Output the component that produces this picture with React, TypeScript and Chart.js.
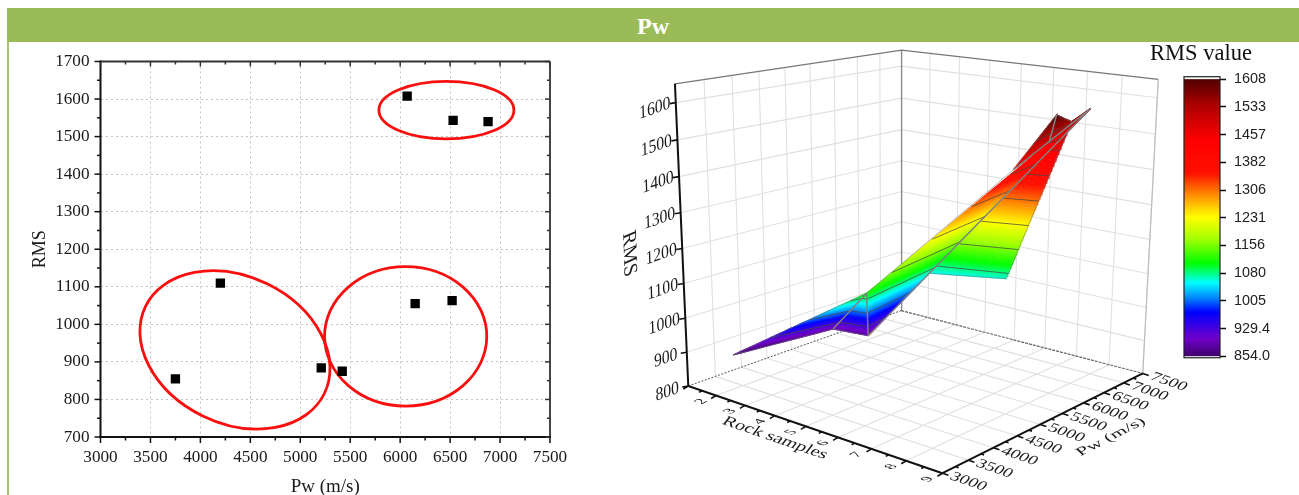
import React, { useEffect, useRef } from "react";
import { Chart, registerables } from "chart.js";
Chart.register(...registerables);

const SERIF = "'Liberation Serif'";
const SANS = "'Liberation Sans'";

// ---- left scatter data
const scatterPw = [3750, 4200, 5210, 5420, 6150, 6520, 6070, 6530, 6880];
const scatterRms = [855, 1110, 884, 875, 1055, 1063, 1608, 1543, 1540];
const ringPw = [6463, 6055, 4346];
const ringRms = [1570.5, 968, 932];
const ringA = [67.5, 81.1, 99.5];
const ringB = [28.7, 69.7, 73.5];
const ringTilt = [0, 0, 26];

// ---- 3D surface data
const surfaceSample = [1.15, 2.18, 3.07, 5.04, 4.05, 5.96, 7.43, 8.78, 7.65, 7.03, 7.45];
const surfacePw = [3768, 5205, 5409, 4151, 6133, 6517, 5486, 5321, 6613, 7597, 6258];
const surfaceRms = [854, 884, 875, 1110, 1055, 1063, 1440, 1608, 1540, 1543, 1490];
const surfaceTriangles = [[4, 5, 8], [4, 8, 9], [6, 7, 10], [7, 8, 10], [10, 8, 9], [2, 3, 9], [0, 1, 3], [1, 2, 3]];
const meshEdges = [[1, 3], [2, 3], [2, 9], [6, 9], [7, 10]];
const outlineEdges = [[0, 1], [0, 3], [1, 2], [3, 6], [6, 7], [7, 8], [8, 5], [5, 4]];
const sampleTicks = [1, 2, 3, 4, 5, 6, 7, 8, 9];
const sampleLabels = ["", "2", "3", "4", "5", "6", "7", "8", "9"];
const pwTicks = [3000, 3500, 4000, 4500, 5000, 5500, 6000, 6500, 7000, 7500];
const rmsTicks = [800, 900, 1000, 1100, 1200, 1300, 1400, 1500, 1600];

// ---- colour bar
const barTicks = [854, 929.4, 1005, 1080, 1156, 1231, 1306, 1382, 1457, 1533, 1608];
const barLabels = ["854.0", "929.4", "1005", "1080", "1156", "1231", "1306", "1382", "1457", "1533", "1608"];
const colorLevels = [854, 900, 972, 1015, 1053, 1106, 1170, 1231, 1290, 1352, 1440, 1533, 1608];
const colorStops = [[64, 0, 110], [112, 0, 200], [0, 0, 255], [0, 144, 255], [0, 255, 255], [0, 255, 0], [160, 255, 0], [255, 255, 0], [255, 144, 0], [255, 16, 0], [255, 0, 0], [176, 0, 0], [80, 0, 0]];

function colorAt(z: number) {
  const n = colorLevels.length;
  if (z <= colorLevels[0]) return `rgb(${colorStops[0].join(",")})`;
  for (let i = 1; i < n; i++) {
    if (z <= colorLevels[i]) {
      const t = (z - colorLevels[i - 1]) / (colorLevels[i] - colorLevels[i - 1]);
      const c = colorStops[i].map((v, k) => Math.round(colorStops[i - 1][k] + (v - colorStops[i - 1][k]) * t));
      return `rgb(${c.join(",")})`;
    }
  }
  return `rgb(${colorStops[n - 1].join(",")})`;
}

// ---- perspective view of the box, fitted to where its corners sit on the page
const boxCorners = [
  [0, 0, 0, 688, 385.7], [1, 0, 0, 942.7, 473.3], [1, 1, 0, 1142.5, 373.5], [0, 1, 0, 901.5, 310.7],
  [0, 0, 1, 675, 84], [0, 1, 1, 901.5, 50], [1, 1, 1, 1158.3, 79.3],
];
function fitView() {
  const rows: number[][] = []; const rhs: number[] = [];
  for (const [u, v, w, X0, Y0] of boxCorners) {
    const X = X0 / 1000, Y = Y0 / 1000;
    rows.push([u, v, w, 1, 0, 0, 0, 0, -X * u, -X * v, -X * w]); rhs.push(X);
    rows.push([0, 0, 0, 0, u, v, w, 1, -Y * u, -Y * v, -Y * w]); rhs.push(Y);
  }
  const n = 11; const A = Array.from({ length: n }, () => new Array(n + 1).fill(0));
  rows.forEach((r, k) => { for (let i = 0; i < n; i++) { for (let j = 0; j < n; j++) A[i][j] += r[i] * r[j]; A[i][n] += r[i] * rhs[k]; } });
  for (let i = 0; i < n; i++) {
    let m = i; for (let k = i + 1; k < n; k++) if (Math.abs(A[k][i]) > Math.abs(A[m][i])) m = k;
    [A[i], A[m]] = [A[m], A[i]];
    for (let k = 0; k < n; k++) { if (k === i) continue; const f = A[k][i] / A[i][i]; for (let j = i; j <= n; j++) A[k][j] -= f * A[i][j]; }
  }
  return A.map((r, i) => r[n] / r[i]);
}
const P = fitView();
const RMS_TOP = 1650;
function project(s: number, pw: number, z: number) {
  const u = (s - 1) / 8, v = (pw - 3000) / 4500, w = (z - 800) / (RMS_TOP - 800);
  const d = P[8] * u + P[9] * v + P[10] * w + 1;
  return { x: 1000 * (P[0] * u + P[1] * v + P[2] * w + P[3]) / d, y: 1000 * (P[4] * u + P[5] * v + P[6] * w + P[7]) / d };
}
type V3 = [number, number, number];
const vert = (i: number): V3 => [surfaceSample[i], surfacePw[i], surfaceRms[i]];
const mix = (a: V3, b: V3, t: number): V3 => [a[0] + (b[0] - a[0]) * t, a[1] + (b[1] - a[1]) * t, a[2] + (b[2] - a[2]) * t];
function clipBand(poly: V3[], lo: number, hi: number) {
  const cut = (pts: V3[], lim: number, keepAbove: boolean) => {
    const out: V3[] = [];
    pts.forEach((a, i) => {
      const b = pts[(i + 1) % pts.length];
      const ina = keepAbove ? a[2] >= lim : a[2] <= lim;
      const inb = keepAbove ? b[2] >= lim : b[2] <= lim;
      if (ina) out.push(a);
      if (ina !== inb) out.push(mix(a, b, (lim - a[2]) / (b[2] - a[2])));
    });
    return out;
  };
  return cut(cut(poly, lo, true), hi, false);
}
const P3 = (a: V3) => project(a[0], a[1], a[2]);
const GAP = { x: NaN, y: NaN };
function segs(list: { x: number; y: number }[][]) {
  const out: { x: number; y: number }[] = [];
  list.forEach((l) => { out.push(...l, GAP); });
  return out;
}
function lineDs(data: { x: number; y: number }[], color: string, width: number, dash: number[] = []) {
  return { data, borderColor: color, borderWidth: width, borderDash: dash, showLine: true, pointRadius: 0, fill: false, spanGaps: false, borderCapStyle: "butt" };
}

function build3dDatasets() {
  const back: any[] = [];
  const S0 = 1, S1 = 9, V0 = 3000, V1 = 7500, Z0 = 800, Z1 = RMS_TOP;
  const grid: { x: number; y: number }[][] = [];
  sampleTicks.slice(1, -1).forEach((s) => {
    grid.push([project(s, V0, Z0), project(s, V1, Z0)]);
  });
  sampleTicks.slice(1).forEach((s) => grid.push([project(s, V1, Z0), project(s, V1, Z1)]));
  pwTicks.slice(1, -1).forEach((v) => {
    grid.push([project(S0, v, Z0), project(S1, v, Z0)]);
    grid.push([project(S0, v, Z0), project(S0, v, Z1)]);
  });
  rmsTicks.slice(1).forEach((z) => {
    grid.push([project(S0, V0, z), project(S0, V1, z), project(S1, V1, z)]);
  });
  back.push(lineDs(segs(grid), "#e0e0e0", 1.1));
  back.push(lineDs([project(S0, V1, Z0), project(S0, V1, Z1)], "#8a8a8a", 1.4));
  back.push(lineDs([project(S0, V0, Z1), project(S0, V1, Z1), project(S1, V1, Z1)], "#777777", 1.2));
  back.push(lineDs([project(S1, V1, Z0), project(S1, V1, Z1)], "#bdbdbd", 1.2));
  back.push(lineDs([project(S0, V0, Z0), project(S0, V1, Z0)], "#555555", 1, [2, 1.5]));
  back.push(lineDs([project(S0, V1, Z0), project(S1, V1, Z0)], "#666666", 1.2, [3, 1]));
  back.push(lineDs([project(S0, V0, Z0), project(S1, V0, Z0)], "#111111", 2));
  back.push(lineDs([project(S1, V0, Z0), project(S1, V1, Z0)], "#111111", 2));
  back.push(lineDs([project(S0, V0, Z0), project(S0, V0, Z1)], "#111111", 2));

  const ticks: { x: number; y: number }[][] = [];
  const off = (q: { x: number; y: number }, dx: number, dy: number) => ({ x: q.x + dx, y: q.y + dy });
  rmsTicks.forEach((z) => { const q = project(S0, V0, z); ticks.push([q, off(q, -6, 1)]); });
  sampleTicks.forEach((s, i) => {
    const q = project(s, V0, Z0); ticks.push([q, off(q, -5, 3)]);
    if (i < sampleTicks.length - 1) { const h = project(s + 0.5, V0, Z0); ticks.push([h, off(h, -3, 1.6)]); }
  });
  pwTicks.forEach((v, i) => {
    const q = project(S1, v, Z0); ticks.push([q, off(q, 6, 2)]);
    if (i < pwTicks.length - 1) { const h = project(S1, v + 250, Z0); ticks.push([h, off(h, 3, 1)]); }
  });
  back.push(lineDs(segs(ticks), "#111111", 1.6));

  const STEP = 5;
  surfaceTriangles.forEach((tri) => {
    const poly = tri.map(vert);
    const zs = poly.map((a) => a[2]);
    const lo = Math.min(...zs), hi = Math.max(...zs);
    for (let z = Math.floor(lo / STEP) * STEP; z < hi; z += STEP) {
      const band = clipBand(poly, z, z + STEP);
      if (band.length < 3) continue;
      const c = colorAt(z + STEP / 2);
      back.push({ data: band.map(P3), showLine: true, fill: "shape", backgroundColor: c, borderColor: c, borderWidth: 1.1, pointRadius: 0 });
    }
    const contour: { x: number; y: number }[][] = [];
    barTicks.forEach((lv) => {
      const pts: V3[] = [];
      poly.forEach((a, i) => {
        const b = poly[(i + 1) % 3];
        if ((a[2] - lv) * (b[2] - lv) < 0) pts.push(mix(a, b, (lv - a[2]) / (b[2] - a[2])));
      });
      if (pts.length === 2) contour.push(pts.map(P3));
    });
    back.push(lineDs(segs(contour), "rgba(70,70,70,0.75)", 1));
  });
  back.push(lineDs(segs(outlineEdges.map((e) => [P3(vert(e[0])), P3(vert(e[1]))])), "rgba(120,120,120,0.7)", 0.8));
  back.push(lineDs(segs(meshEdges.map((e) => [P3(vert(e[0])), P3(vert(e[1]))])), "#808080", 1.5));
  return back.reverse();
}

const viewLabels = {
  id: "viewLabels",
  afterDraw(chart: any) {
    const { ctx, scales: { x, y } } = chart;
    const put = (txt: string, px: number, py: number, xb: number[], yb: number[], size: number, font = SERIF) => {
      ctx.save();
      ctx.setTransform(xb[0], xb[1], yb[0], yb[1], x.getPixelForValue(px), y.getPixelForValue(py));
      ctx.font = `${size}px ${font}`;
      ctx.fillStyle = "#1a1a1a";
      ctx.textAlign = "center";
      ctx.textBaseline = "middle";
      ctx.fillText(txt, 0, 0);
      ctx.restore();
    };
    const alongU = [0.945, 0.326], alongV = [0.89, -0.455], wall = [0.945, -0.326], up = [0.03, 1];
    const s = (a: number[], k: number) => [a[0] * k, a[1] * k];
    rmsTicks.forEach((z) => { const q = project(1, 3000, z); put(String(z), q.x - 21, q.y + 6, s(wall, 0.97), s(up, 1.1), 17); });
    sampleTicks.forEach((t, i) => { if (!sampleLabels[i]) return; const q = project(t, 3000, 800); put(sampleLabels[i], q.x - 15, q.y + 6, s(alongV, 1.05), s(alongU, 0.95), 14.5); });
    pwTicks.forEach((v) => { const q = project(9, v, 800); put(String(v), q.x + 26, q.y + 8.5, s(alongU, 1.15), [-0.55, 0.72], 16); });
    put("Rock samples", 775, 438, s(alongU, 1.15), [-0.55, 0.72], 17);
    put("Pw (m/s)", 1111, 437, s(alongV, 1.2), [0.58, 0.55], 17);
    put("RMS", 629, 254, [0.03, 1], [-0.92, 0.4], 21);
  },
};

const frame = {
  id: "frame",
  beforeDatasetsDraw(chart: any) {
    const { ctx, scales: { x, y } } = chart;
    ringPw.forEach((v, i) => {
      ctx.beginPath();
      ctx.ellipse(x.getPixelForValue(v), y.getPixelForValue(ringRms[i]), ringA[i], ringB[i], (ringTilt[i] * Math.PI) / 180, 0, Math.PI * 2);
      ctx.strokeStyle = "#fa0f0f";
      ctx.lineWidth = 2.8;
      ctx.stroke();
    });
  },
  afterDraw(chart: any) {
    const { ctx, chartArea: a, scales: { x, y } } = chart;
    ctx.save();
    const ln = (x0: number, y0: number, x1: number, y1: number, c: string, w: number) => {
      ctx.beginPath(); ctx.moveTo(x0, y0); ctx.lineTo(x1, y1); ctx.strokeStyle = c; ctx.lineWidth = w; ctx.stroke();
    };
    ln(a.left, a.top, a.right, a.top, "#333", 1.8);
    ln(a.right, a.top, a.right, a.bottom, "#333", 1.8);
    ln(a.left, a.top - 1, a.left, a.bottom + 1, "#111", 2);
    ln(a.left - 1, a.bottom, a.right + 1, a.bottom, "#111", 2);
    const xs = x.ticks.map((t: any) => t.value), ys = y.ticks.map((t: any) => t.value);
    xs.forEach((v: number, i: number) => {
      const p = x.getPixelForValue(v);
      ln(p, a.bottom, p, a.bottom + 6, "#111", 1.5); ln(p, a.top, p, a.top + 5, "#333", 1.5);
      if (i < xs.length - 1) { const h = x.getPixelForValue(v + 250); ln(h, a.bottom, h, a.bottom + 3.5, "#111", 1.5); ln(h, a.top, h, a.top + 3, "#333", 1.5); }
    });
    ys.forEach((v: number, i: number) => {
      const p = y.getPixelForValue(v);
      ln(a.left - 6, p, a.left, p, "#111", 1.5); ln(a.right - 5, p, a.right, p, "#333", 1.5);
      if (i < ys.length - 1) { const h = y.getPixelForValue(v + 50); ln(a.left - 3.5, h, a.left, h, "#111", 1.5); ln(a.right - 3, h, a.right, h, "#333", 1.5); }
    });
    ctx.restore();
  },
};

const barFrame = {
  id: "barFrame",
  afterDraw(chart: any) {
    const { ctx, chartArea: a } = chart;
    ctx.save();
    ctx.strokeStyle = "#222";
    ctx.lineWidth = 1.2;
    ctx.strokeRect(a.left, a.top - 2.6, a.right - a.left, a.bottom - a.top + 4);
    ctx.fillStyle = "#111";
    ctx.font = `22.5px ${SERIF}`;
    ctx.textAlign = "center";
    ctx.textBaseline = "middle";
    ctx.fillText("RMS value", 1201 - 1140, 54 - 43);
    ctx.restore();
  },
};

export default function App() {
  const left = useRef<HTMLCanvasElement>(null);
  const right = useRef<HTMLCanvasElement>(null);
  const bar = useRef<HTMLCanvasElement>(null);
  useEffect(() => {
    const tickFont = { family: SERIF, size: 17.2 };
    const plain = (v: any) => String(v);
    const c1 = new Chart(left.current as any, {
      type: "scatter",
      data: { datasets: [{ data: scatterPw.map((v, i) => ({ x: v, y: scatterRms[i] })), pointStyle: "rect", pointRadius: 6.6, backgroundColor: "#000", borderWidth: 0 }] },
      plugins: [frame],
      options: {
        animation: false, responsive: false,
        layout: { padding: { top: 61.5, right: 70, left: 0, bottom: 0 } },
        plugins: { legend: { display: false }, tooltip: { enabled: false } },
        scales: {
          x: {
            type: "linear", min: 3000, max: 7500,
            ticks: { stepSize: 500, font: tickFont, color: "#1a1a1a", padding: 10, maxRotation: 0, autoSkip: false, callback: plain },
            grid: { color: "#c4c4c4", drawTicks: false, tickLength: 0 },
            border: { dash: [2, 3], display: false },
            title: { display: true, text: "Pw (m/s)", font: { family: SERIF, size: 19 }, color: "#1a1a1a", padding: { top: 0, bottom: -3.5 } },
            afterFit: (ax: any) => { ax.height = 58; },
          },
          y: {
            type: "linear", min: 700, max: 1700,
            ticks: { stepSize: 100, font: tickFont, color: "#1a1a1a", padding: 11, autoSkip: false, callback: plain },
            grid: { color: "#c4c4c4", drawTicks: false, tickLength: 0 },
            border: { dash: [2, 3], display: false },
            title: { display: true, text: "RMS", font: { family: SERIF, size: 18 }, color: "#1a1a1a", padding: { top: 29, bottom: 0 } },
            afterFit: (ax: any) => { ax.width = 100.5; },
          },
        },
      } as any,
    } as any);
    const c2 = new Chart(right.current as any, {
      type: "scatter",
      data: { datasets: build3dDatasets() },
      plugins: [viewLabels],
      options: {
        animation: false, responsive: false,
        layout: { padding: 0 },
        plugins: { legend: { display: false }, tooltip: { enabled: false } },
        scales: {
          x: { type: "linear", min: 620, max: 1299, display: false },
          y: { type: "linear", min: 43, max: 495, reverse: true, display: false },
        },
      } as any,
    } as any);
    const lv: number[] = [];
    for (let z = 854; z < 1608; z += 2) lv.push(z);
    const c3 = new Chart(bar.current as any, {
      type: "bar",
      data: {
        labels: [""],
        datasets: lv.map((z) => ({ data: [[z, z + 2.6]], backgroundColor: colorAt(z + 1), borderWidth: 0, barPercentage: 1, categoryPercentage: 1, grouped: false })),
      },
      plugins: [barFrame],
      options: {
        animation: false, responsive: false,
        layout: { padding: { left: 44, right: 0, top: 36.3, bottom: 12.5 } },
        plugins: { legend: { display: false }, tooltip: { enabled: false } },
        scales: {
          x: { display: false, grid: { display: false } },
          y: {
            type: "linear", position: "right", min: 854, max: 1608,
            afterBuildTicks: (ax: any) => { ax.ticks = barTicks.map((v) => ({ value: v })); },
            ticks: { callback: (v: any) => barLabels[barTicks.indexOf(v)] ?? "", font: { family: SANS, size: 14.4 }, color: "#222", padding: 8, autoSkip: false },
            grid: { drawOnChartArea: false, color: "#111", tickLength: 6, tickWidth: 1.5 },
            border: { display: false },
            afterFit: (ax: any) => { ax.width = 79; },
          },
        },
      } as any,
    } as any);
    return () => { c1.destroy(); c2.destroy(); c3.destroy(); };
  }, []);
  const soft: React.CSSProperties = { position: "absolute", display: "block", filter: "blur(0.45px)" };
  return (
    <div style={{ position: "absolute", left: 0, top: 0, width: 1299, height: 495, overflow: "hidden", background: "#fff" }}>
      <div style={{ position: "absolute", left: 7, top: 8, width: 1292, height: 34, background: "#9bbb59", color: "#fff", font: `bold 24px ${SERIF}`, textAlign: "center", lineHeight: "37px" }}>Pw</div>
      <div style={{ position: "absolute", left: 7, top: 42, width: 2, height: 453, background: "#a9c46e" }} />
      <canvas ref={left} width={620} height={495} style={{ ...soft, left: 0, top: 0 }} />
      <canvas ref={right} width={679} height={452} style={{ ...soft, left: 620, top: 43 }} />
      <canvas ref={bar} width={159} height={330} style={{ ...soft, left: 1140, top: 43 }} />
    </div>
  );
}
